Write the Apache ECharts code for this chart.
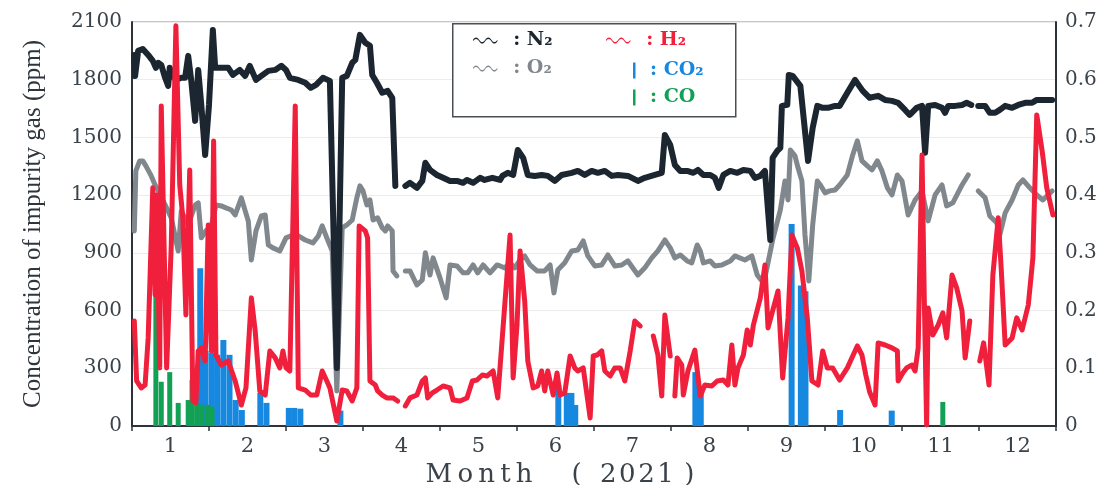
<!DOCTYPE html>
<html><head><meta charset="utf-8">
<script src="https://cdn.jsdelivr.net/npm/echarts@6/dist/echarts.min.js"></script>
<style>html,body{margin:0;padding:0;background:#fff}#c{width:1100px;height:485px}</style>
</head><body><div id="c"></div>
<script>
// Month categories (x-axis labels)
const months = ['1','2','3','4','5','6','7','8','9','10','11','12'];
// Axis ranges / tick steps
const leftAxis = {min: 0, max: 2100, step: 300};
const rightAxis = {min: 0, max: 0.7, step: 0.1};

// N2 concentration (ppm): [time in months from Jan 1, value]; null = gap
const n2 = [[0.03,1929],[0.04,1819],[0.08,1950],[0.14,1960],[0.21,1929],[0.27,1898],[0.31,1862],[0.34,1888],[0.38,1877],[0.43,1810],[0.47,1768],[0.49,1862],[0.53,1820],[0.57,1799],[0.64,1810],[0.69,1810],[0.73,1924],[0.77,1794],[0.82,1586],[0.86,1851],[0.90,1669],[0.95,1409],[1.00,1669],[1.05,2059],[1.08,1862],[1.16,1862],[1.25,1862],[1.31,1825],[1.40,1851],[1.47,1820],[1.53,1872],[1.61,1799],[1.68,1820],[1.77,1846],[1.86,1851],[1.94,1872],[2.00,1851],[2.05,1810],[2.16,1799],[2.25,1784],[2.32,1758],[2.39,1773],[2.48,1810],[2.57,1794],[2.66,302],[2.73,1810],[2.79,1820],[2.86,1888],[2.90,1903],[2.96,2033],[3.03,1992],[3.09,1976],[3.12,1825],[3.18,1784],[3.25,1732],[3.32,1742],[3.38,1706],[3.42,1248],null,[3.55,1248],[3.61,1264],[3.70,1238],[3.77,1274],[3.81,1368],[3.87,1331],[3.96,1305],[4.04,1290],[4.13,1274],[4.22,1274],[4.30,1264],[4.35,1279],[4.43,1264],[4.52,1290],[4.58,1279],[4.68,1290],[4.78,1279],[4.81,1300],[4.88,1316],[4.95,1305],[5.01,1435],[5.08,1394],[5.14,1305],[5.23,1300],[5.32,1305],[5.40,1300],[5.49,1274],[5.58,1305],[5.71,1316],[5.79,1326],[5.88,1305],[5.97,1326],[6.05,1316],[6.14,1326],[6.23,1300],[6.31,1305],[6.44,1300],[6.57,1274],[6.66,1290],[6.79,1305],[6.88,1316],[6.92,1513],[6.99,1461],[7.05,1357],[7.12,1326],[7.21,1326],[7.29,1316],[7.35,1331],[7.42,1305],[7.51,1305],[7.57,1290],[7.62,1238],[7.68,1305],[7.77,1326],[7.86,1316],[7.94,1331],[8.03,1326],[8.09,1290],[8.16,1300],[8.22,1326],[8.29,967],[8.32,1394],[8.38,1430],[8.42,1446],[8.44,1664],[8.51,1669],[8.53,1825],[8.58,1820],[8.68,1768],[8.78,1378],[8.84,1550],[8.90,1664],[8.97,1654],[9.04,1654],[9.13,1664],[9.19,1664],[9.29,1732],[9.39,1799],[9.49,1742],[9.58,1706],[9.69,1716],[9.78,1695],[9.87,1690],[9.95,1680],[10.04,1643],[10.10,1617],[10.19,1654],[10.26,1664],[10.30,1420],[10.34,1664],[10.43,1669],[10.52,1654],[10.56,1628],[10.60,1664],[10.69,1664],[10.78,1669],[10.84,1680],[10.90,1669],null,[10.99,1664],[11.08,1664],[11.14,1628],[11.21,1628],[11.27,1643],[11.34,1664],[11.43,1654],[11.51,1669],[11.60,1680],[11.69,1680],[11.75,1695],[11.82,1695],[11.95,1695]];

// O2 concentration (ppm)
const o2 = [[0.03,1014],[0.05,1326],[0.10,1378],[0.14,1378],[0.18,1352],[0.25,1300],[0.30,1253],[0.34,1222],[0.43,1149],[0.51,1082],[0.60,910],[0.64,1118],[0.73,1045],[0.82,1149],[0.86,1160],[0.90,978],[0.96,1014],[1.03,1040],[1.09,1149],[1.16,1144],[1.22,1134],[1.29,1123],[1.34,1097],[1.42,1186],[1.47,1118],[1.51,1066],[1.55,863],[1.61,1014],[1.68,1092],[1.73,1097],[1.77,941],[1.83,926],[1.92,910],[2.00,978],[2.09,993],[2.16,988],[2.25,967],[2.35,952],[2.42,988],[2.47,1040],[2.53,978],[2.60,910],[2.66,182],[2.73,1030],[2.79,1045],[2.86,1071],[2.92,1186],[2.96,1248],[3.00,1222],[3.05,1149],[3.09,1175],[3.13,1071],[3.19,1082],[3.25,1030],[3.29,1014],[3.32,1040],[3.38,1014],[3.39,806],[3.44,780],null,[3.55,806],[3.61,806],[3.70,733],[3.77,759],[3.81,900],[3.87,785],[3.91,874],[4.00,770],[4.08,666],[4.13,837],[4.22,832],[4.30,796],[4.36,796],[4.43,837],[4.49,796],[4.56,837],[4.65,796],[4.74,837],[4.78,832],[4.84,822],[4.91,848],[4.97,822],[5.04,863],[5.10,884],[5.17,837],[5.26,806],[5.36,806],[5.43,837],[5.48,692],[5.53,811],[5.62,848],[5.71,910],[5.79,915],[5.86,962],[5.92,884],[6.01,832],[6.10,837],[6.18,889],[6.27,832],[6.36,837],[6.44,858],[6.57,785],[6.66,822],[6.75,874],[6.83,910],[6.92,967],[6.99,926],[7.05,874],[7.12,889],[7.21,858],[7.27,848],[7.34,941],[7.38,910],[7.42,848],[7.51,858],[7.57,832],[7.66,837],[7.77,858],[7.83,884],[7.96,863],[8.05,884],[8.12,785],[8.18,754],[8.22,770],[8.26,848],[8.32,967],[8.42,1123],[8.48,1274],[8.52,1175],[8.55,1435],[8.61,1404],[8.65,1342],[8.70,1274],[8.74,993],[8.79,754],[8.84,1045],[8.90,1274],[8.94,1253],[9.00,1212],[9.06,1222],[9.13,1227],[9.19,1253],[9.29,1305],[9.36,1409],[9.42,1482],[9.48,1378],[9.55,1352],[9.61,1331],[9.68,1378],[9.74,1326],[9.81,1238],[9.87,1201],[9.94,1305],[10.00,1274],[10.08,1097],[10.17,1175],[10.26,1222],[10.34,1066],[10.43,1201],[10.52,1253],[10.58,1144],[10.66,1160],[10.78,1253],[10.86,1305],null,[10.99,1222],[11.08,1186],[11.14,1092],[11.23,1056],[11.27,993],[11.34,1108],[11.43,1175],[11.51,1253],[11.57,1279],[11.66,1238],[11.75,1201],[11.83,1175],[11.95,1222]];

// H2 concentration (ppm)
const h2 = [[0.03,546],[0.06,234],[0.12,198],[0.17,213],[0.21,458],[0.27,1238],[0.30,681],[0.32,1201],[0.36,302],[0.38,1664],[0.43,681],[0.45,302],[0.51,941],[0.57,2080],[0.62,1253],[0.66,1082],[0.70,577],[0.75,1331],[0.79,130],[0.83,120],[0.86,390],[0.90,406],[0.95,338],[0.99,1045],[1.03,390],[1.06,1482],[1.09,369],[1.16,317],[1.25,338],[1.34,234],[1.42,109],[1.48,198],[1.55,666],[1.60,494],[1.66,182],[1.73,161],[1.79,390],[1.86,354],[1.92,302],[1.96,390],[2.00,302],[2.05,286],[2.12,1664],[2.16,198],[2.25,187],[2.32,161],[2.40,161],[2.47,286],[2.53,234],[2.57,198],[2.66,26],[2.73,187],[2.79,182],[2.86,130],[2.92,198],[2.95,1040],[3.03,1014],[3.06,978],[3.09,234],[3.16,213],[3.19,182],[3.25,161],[3.31,146],[3.39,146],[3.45,130],null,[3.55,104],[3.61,146],[3.70,161],[3.77,234],[3.81,250],[3.84,146],[3.90,172],[3.96,187],[4.04,208],[4.13,198],[4.17,135],[4.26,130],[4.35,146],[4.42,234],[4.48,239],[4.55,265],[4.61,260],[4.69,286],[4.75,146],[4.84,624],[4.91,993],[4.95,250],[5.00,525],[5.04,910],[5.10,650],[5.14,338],[5.21,198],[5.27,208],[5.32,286],[5.36,182],[5.40,286],[5.47,161],[5.52,276],[5.56,161],[5.62,172],[5.69,364],[5.75,302],[5.79,286],[5.86,302],[5.95,42],[5.99,364],[6.04,369],[6.10,390],[6.14,286],[6.21,260],[6.27,302],[6.34,302],[6.40,234],[6.47,390],[6.53,546],[6.60,520],null,[6.77,468],[6.83,369],[6.88,156],[6.92,577],[6.99,364],null,[7.05,156],[7.08,354],[7.14,317],[7.16,161],[7.22,286],[7.31,395],[7.38,156],[7.44,213],[7.53,208],[7.60,234],[7.68,239],[7.74,213],[7.79,421],[7.83,213],[7.87,302],[7.94,369],[7.99,499],[8.03,421],[8.07,525],[8.16,666],[8.22,837],[8.26,510],[8.32,598],[8.39,702],[8.45,250],[8.52,562],[8.57,993],[8.64,926],[8.70,806],[8.77,562],[8.83,234],[8.91,213],[8.97,390],[9.03,302],[9.10,302],[9.19,239],[9.29,302],[9.42,416],[9.48,369],[9.53,265],[9.58,177],[9.65,109],[9.69,432],[9.78,421],[9.87,406],[9.94,390],[9.95,234],[10.01,276],[10.06,302],[10.13,317],[10.17,286],[10.21,406],[10.26,1409],[10.29,650],[10.32,5],[10.34,614],[10.40,473],[10.47,525],[10.53,588],[10.58,458],[10.65,785],[10.71,718],[10.78,598],[10.82,354],[10.88,546],null,[11.01,338],[11.06,432],[11.13,213],[11.18,785],[11.25,1082],[11.29,806],[11.34,421],[11.43,458],[11.49,562],[11.56,499],[11.64,629],[11.70,874],[11.75,1617],[11.82,1430],[11.88,1238],[11.96,1097]];

// CO2 and CO (ppm), daily bars
const co2 = [[0.88,820],[0.95,390],[1.03,380],[1.10,370],[1.18,447],[1.26,370],[1.34,135],[1.42,83],[1.66,172],[1.74,120],[2.03,94],[2.10,94],[2.18,90],[2.70,80],[5.53,213],[5.64,172],[5.70,172],[5.75,109],[7.31,280],[7.38,190],[8.56,1050],[8.68,730],[8.74,700],[9.19,83],[9.86,80]];
const co = [[0.31,720],[0.38,230],[0.49,280],[0.60,120],[0.73,135],[0.78,240],[0.84,120],[0.91,110],[0.99,110],[1.04,100],[10.53,125]];

const C = {n2:'#1b2630', o2:'#80878d', h2:'#f0203c', co2:'#1688e0', co:'#12a055', axis:'#2c333a', text:'#3a424a'};
const prep = arr => arr.map(p => p === null ? ['-','-'] : p);
const WAVE = 'path://M0,3 C2,0 4,0 6,3 S10,6 12,3 S16,0 18,3 S22,6 24,3 L24,4.4 C22,7.4 20,7.4 18,4.4 S14,1.4 12,4.4 S8,7.4 6,4.4 S2,1.4 0,4.4 Z';
const serif = 'DejaVu Serif';

function lg(name, icon, color, label, left, top, w, h) {
  return {
    data: [{name: name, icon: icon, itemStyle: {color: color, borderWidth: 0}}],
    left: left, top: top, padding: 0, itemWidth: w, itemHeight: h, selectedMode: false,
    formatter: () => label,
    textStyle: {color: color, fontFamily: serif, fontSize: 19, fontWeight: 'bold'}
  };
}

const chart = echarts.init(document.getElementById('c'));
chart.setOption({
  animation: false,
  backgroundColor: '#fff',
  grid: {left: 132, right: 44, top: 22, bottom: 59, show: true, borderColor: '#8a9096', borderWidth: 1,
         containLabel: false, outerBoundsMode: 'none'},
  graphic: [{type: 'rect', left: 452, top: 23, shape: {width: 283, height: 93}, style: {fill: '#fff', stroke: '#4a4f55', lineWidth: 1.5}, z: 3}],
  legend: [
    lg('N2', WAVE, C.n2, '\u2002: N\u2082', 473, 31, 27, 6),
    lg('H2', WAVE, C.h2, '\u2002: H\u2082', 606, 31, 27, 6),
    lg('O2', WAVE, C.o2, '\u2002: O\u2082', 473, 59, 27, 6),
    lg('CO2', 'rect', C.co2, '\u2002: CO\u2082', 633, 61, 2.5, 16),
    lg('CO', 'rect', C.co, '\u2002: CO', 633, 88, 2.5, 16)
  ],
  xAxis: [
    {type: 'value', min: 0, max: 12, interval: 1,
     axisLine: {show: true, lineStyle: {color: C.axis, width: 2}},
     axisTick: {show: true, length: 5, lineStyle: {color: C.axis, width: 1.5}},
     axisLabel: {show: false}, splitLine: {show: false}},
    {type: 'category', data: months, boundaryGap: true, position: 'bottom',
     axisLine: {show: false}, axisTick: {show: false},
     axisLabel: {fontFamily: serif, fontSize: 21, color: C.text, margin: 10},
     name: 'M\u2009o\u2009n\u2009t\u2009h\u2003\u2002(\u2002\u20092\u200a0\u200a2\u200a1\u2009\u2009)',
     nameLocation: 'middle', nameGap: 33,
     nameTextStyle: {fontFamily: serif, fontSize: 26, color: C.text, padding: [0, 68, 0, 0]}}
  ],
  yAxis: [
    {type: 'value', min: leftAxis.min, max: leftAxis.max, interval: leftAxis.step, position: 'left',
     axisLine: {show: true, lineStyle: {color: C.axis, width: 2}}, axisTick: {show: false},
     axisLabel: {fontFamily: serif, fontSize: 20, color: C.text, margin: 10, formatter: v => String(v)},
     splitLine: {show: true, lineStyle: {color: '#ececec', width: 1}},
     name: 'Concentration of impurity gas (ppm)', nameLocation: 'middle', nameGap: 86,
     nameTextStyle: {fontFamily: 'Liberation Serif', fontSize: 25, color: '#2e353c'}},
    {type: 'value', min: rightAxis.min, max: rightAxis.max, interval: rightAxis.step, position: 'right',
     axisLine: {show: true, lineStyle: {color: C.axis, width: 2}}, axisTick: {show: false},
     axisLabel: {fontFamily: serif, fontSize: 20, color: C.text, margin: 9,
                 formatter: v => v === 0 ? '0' : v.toFixed(1)},
     splitLine: {show: false}}
  ],
  series: [
    {name: 'CO2', type: 'bar', data: co2, barWidth: 6, barGap: '-100%', itemStyle: {color: C.co2}, z: 1, silent: true},
    {name: 'CO', type: 'bar', data: co, barWidth: 5, barGap: '-100%', itemStyle: {color: C.co}, z: 1, silent: true},
    {name: 'O2', type: 'line', data: prep(o2), symbol: 'none', connectNulls: false, z: 2, silent: true,
     lineStyle: {color: C.o2, width: 5, cap: 'round', join: 'round'}, itemStyle: {color: C.o2}},
    {name: 'N2', type: 'line', data: prep(n2), symbol: 'none', connectNulls: false, z: 3, silent: true,
     lineStyle: {color: C.n2, width: 6, cap: 'round', join: 'round'}, itemStyle: {color: C.n2}},
    {name: 'H2', type: 'line', data: prep(h2), symbol: 'none', connectNulls: false, z: 4, silent: true,
     lineStyle: {color: C.h2, width: 5, cap: 'round', join: 'round'}, itemStyle: {color: C.h2}}
  ]
});
</script>
</body></html>
